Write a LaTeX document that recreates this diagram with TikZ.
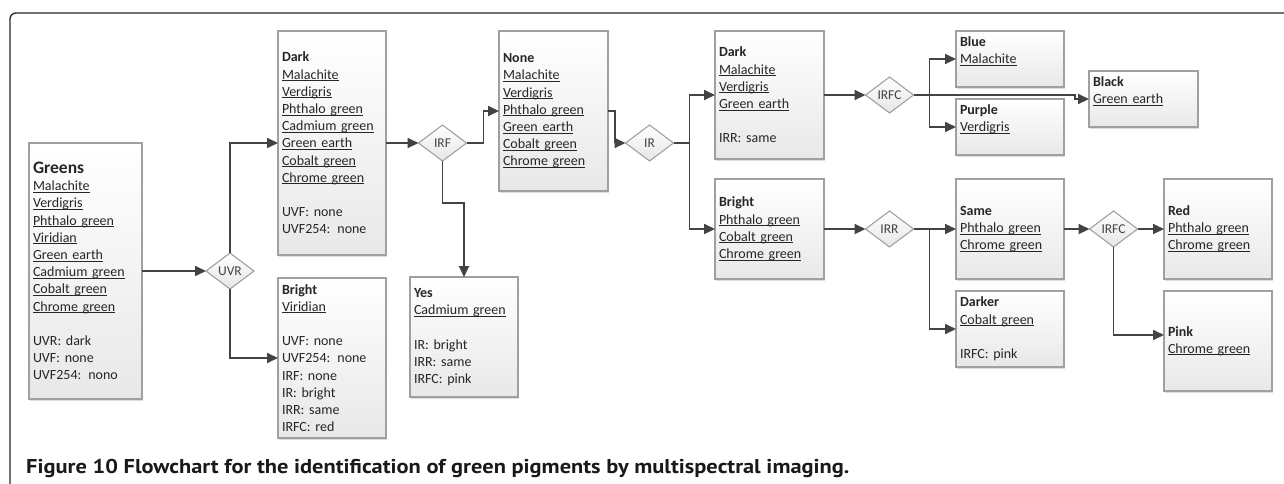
\documentclass[tikz,border=0pt]{standalone}
\usepackage{fontspec}
\setmainfont{Carlito}
\newfontfamily\capfont{PT Sans}[FakeStretch=1.12]
\usetikzlibrary{shapes.geometric,arrows.meta,shadows,calc}
\definecolor{txt}{HTML}{262626}
\definecolor{lin}{HTML}{434343}
\definecolor{bord}{HTML}{A0A0A0}
\definecolor{dtxt}{HTML}{444444}
\newsavebox\myulbox
\newcommand\myul[1]{\leavevmode\sbox\myulbox{#1}\rlap{\rule[-1.9pt]{\wd\myulbox}{0.75pt}}\usebox\myulbox}
\newcommand\boxfont{\fontsize{14}{17.2}\selectfont}
\tikzset{
  box/.style={draw=bord, line width=1.2pt, top color=white, bottom color=black!9,
    drop shadow={shadow xshift=1.2pt, shadow yshift=-1.5pt, fill=black!22, opacity=0.6},
    align=left, inner xsep=4pt, inner ysep=0pt, outer sep=0pt, text=txt, font=\boxfont},
  dia/.style={diamond, draw=bord, line width=1.1pt, top color=white, bottom color=black!10,
    minimum width=48pt, minimum height=36pt, inner sep=0pt, outer sep=0pt},
  dtext/.style={font=\fontsize{13.5}{14}\selectfont, text=dtxt},
  conn/.style={draw=lin, line width=1.9pt, -{Triangle[length=11pt,width=10pt]}},
  plain/.style={draw=lin, line width=1.9pt},
}
\begin{document}
\begin{tikzpicture}[x=1pt,y=-1pt]
\useasboundingbox (0,0) rectangle (1284,483);
\draw[line width=1.3pt, black!85, rounded corners=6pt] (10,490) -- (10,13) -- (1290,13);

% boxes
\node[box, minimum height=256pt, text width=105pt] (greens) at (85.5,271)
 {{\fontsize{17.5}{19}\selectfont\textbf{Greens}}\\\myul{Malachite}\\\myul{Verdigris}\\\myul{Phthalo green}\\\myul{Viridian}\\\myul{Green earth}\\\myul{Cadmium green}\\\myul{Cobalt green}\\\myul{Chrome green}\\[17.2pt]UVR: dark\\UVF: none\\UVF254: nono};
\node[box, minimum height=224pt, text width=100pt] (dark) at (332,143)
 {\textbf{Dark}\\\myul{Malachite}\\\myul{Verdigris}\\\myul{Phthalo green}\\\myul{Cadmium green}\\\myul{Green earth}\\\myul{Cobalt green}\\\myul{Chrome green}\\[17.2pt]UVF: none\\UVF254: none};
\node[box, minimum height=160pt, text width=100pt] (bright) at (332,358)
 {\textbf{Bright}\\\myul{Viridian}\\[17.2pt]UVF: none\\UVF254: none\\IRF: none\\IR: bright\\IRR: same\\IRFC: red};
\node[box, minimum height=160pt, text width=101pt] (none) at (553.5,111)
 {\textbf{None}\\\myul{Malachite}\\\myul{Verdigris}\\\myul{Phthalo green}\\\myul{Green earth}\\\myul{Cobalt green}\\\myul{Chrome green}};
\node[box, minimum height=120pt, text width=100pt] (yes) at (464,337)
 {\textbf{Yes}\\\myul{Cadmium green}\\[17.2pt]IR: bright\\IRR: same\\IRFC: pink};
\node[box, minimum height=128pt, text width=101pt] (dark2) at (769.5,95)
 {\textbf{Dark}\\\myul{Malachite}\\\myul{Verdigris}\\\myul{Green earth}\\[17.2pt]IRR: same};
\node[box, minimum height=100pt, text width=101pt] (bright2) at (769.5,229)
 {\textbf{Bright}\\\myul{Phthalo green}\\\myul{Cobalt green}\\\myul{Chrome green}};
\node[box, minimum height=56pt, text width=100pt] (blue) at (1010,59)
 {\textbf{Blue}\\\myul{Malachite}\\\mbox{}};
\node[box, minimum height=56pt, text width=100pt] (purple) at (1010,127)
 {\textbf{Purple}\\\myul{Verdigris}\\\mbox{}};
\node[box, minimum height=56pt, text width=101pt] (black) at (1143.5,99)
 {\textbf{Black}\\\myul{Green earth}\\\mbox{}};
\node[box, minimum height=100pt, text width=100pt] (same) at (1010,229)
 {\textbf{Same}\\\myul{Phthalo green}\\\myul{Chrome green}};
\node[box, minimum height=76pt, text width=100pt] (darker) at (1010,329)
 {\textbf{Darker}\\\myul{Cobalt green}\\[17.2pt]IRFC: pink};
\node[box, minimum height=100pt, text width=100pt] (red) at (1218,229)
 {\textbf{Red}\\\myul{Phthalo green}\\\myul{Chrome green}};
\node[box, minimum height=100pt, text width=100pt] (pink) at (1218,341)
 {\textbf{Pink}\\\myul{Chrome green}};

% decisions
\node[dia, label={[name=uvrt, dtext]center:UVR}] (uvr) at (230,271) {};
\node[dia, label={[name=irft, dtext]center:IRF}] (irf) at (442.5,143) {};
\node[dia, label={[name=irt, dtext]center:IR}] (ir) at (649.5,143) {};
\node[dia, label={[name=irfct, dtext]center:IRFC}] (irfc) at (889.5,95) {};
\node[dia, label={[name=irrt, dtext]center:IRR}] (irr) at (889.5,229) {};
\node[dia, label={[name=irfc2t, dtext]center:IRFC}] (irfc2) at (1113.5,229) {};

% connectors
\draw[conn] (greens.east) -- (uvr.west);
\draw[conn] (uvr.north) |- (dark.west);
\draw[conn] (uvr.south) |- (bright.west);
\draw[conn] (dark.east) -- (irf.west);
\draw[conn] (irf.east) -- ++(17,0) |- (none.west);
\draw[conn] (irf.south) -- ++(0,42) -| (yes.north);
\draw[conn] (none.east) -- ++(7,0) |- (ir.west);
\draw[plain] (ir.east) -- ++(16,0) coordinate (irj);
\draw[conn] (irj) |- (dark2.west);
\draw[conn] (irj) |- (bright2.west);
\draw[conn] (dark2.east) -- (irfc.west);
\draw[plain] (irfc.east) -- ++(16,0) coordinate (irfcj);
\draw[conn] (irfcj) |- (blue.west);
\draw[conn] (irfcj) |- (purple.west);
\coordinate (bj) at ([xshift=-14pt]black.west);
\draw[conn] (irfc.east) -- (bj |- irfc.east) |- (black.west);
\draw[conn] (bright2.east) -- (irr.west);
\draw[plain] (irr.east) -- ++(16,0) coordinate (irrj);
\draw[conn] (irrj) -- (same.west);
\draw[conn] (irrj) |- (darker.west);
\draw[conn] (same.east) -- (irfc2.west);
\draw[conn] (irfc2.east) -- (red.west);
\draw[conn] (irfc2.south) |- ([yshift=6pt]pink.west);

% caption
\node[anchor=base west, inner sep=0pt, text=black!90, font=\capfont\bfseries\fontsize{20}{22}\selectfont] (cap) at (26,473)
 {Figure 10 Flowchart for the identification of green pigments by multispectral imaging.};
\end{tikzpicture}
\end{document}
